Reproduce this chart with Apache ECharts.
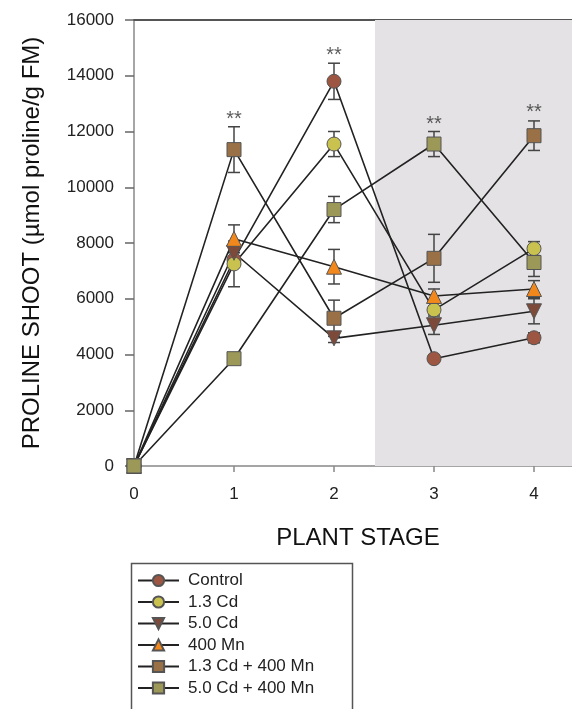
<!DOCTYPE html>
<html><head><meta charset="utf-8">
<script src="https://cdn.jsdelivr.net/npm/echarts@6/dist/echarts.min.js"></script>
<style>html,body{margin:0;padding:0;background:#fff}#c{width:572px;height:709px}</style>
</head><body><div id="c"></div>
<script>
const stages = [0, 1, 2, 3, 4];
const seriesNames = ['Control', '1.3 Cd', '5.0 Cd', '400 Mn', '1.3 Cd + 400 Mn', '5.0 Cd + 400 Mn'];
const control     = [0, 7400, 13800, 3850, 4600];
const cd13        = [0, 7250, 11550, 5600, 7800];
const cd50        = [0, 7650, 4580, 5050, 5550];
const mn400       = [0, 8150, 7150, 6100, 6350];
const cd13mn      = [0, 11350, 5300, 7450, 11850];
const cd50mn      = [0, 3850, 9200, 11550, 7300];
const controlErr  = [0, 0, 650, 120, 180];
const cd13Err     = [0, 820, 450, 150, 250];
const cd50Err     = [0, 150, 150, 330, 450];
const mn400Err    = [0, 500, 620, 250, 300];
const cd13mnErr   = [0, 820, 650, 860, 530];
const cd50mnErr   = [0, 0, 470, 450, 500];
const starStages  = [1, 2, 3, 4];
const starValues  = [12440, 14740, 12240, 12690];
const shadedRange = [2.41, 4.38];
const xTickValues = [0, 1, 2, 3, 4];
const yTicks = { min: 0, max: 16000, interval: 2000 };

const values = [control, cd13, cd50, mn400, cd13mn, cd50mn];
const errs = [controlErr, cd13Err, cd50Err, mn400Err, cd13mnErr, cd50mnErr];
const colors = ['#9c5642', '#c9c24e', '#7d4a3a', '#f2871c', '#9a7147', '#9c9858'];
const symbols = ['circle', 'circle', 'path://M0,0 L10,0 L5,9 Z', 'triangle', 'rect', 'rect'];
const sizes = [14, 14, 15, 15, 14, 14];
const FONT = '"Liberation Sans", Arial, sans-serif';

const series = [];
values.forEach((vals, i) => {
  const data = stages.map((s, k) => [s, vals[k], errs[i][k]]).filter(d => d[2] > 0);
  series.push({
    type: 'custom', name: 'err' + i, z: 3, silent: true,
    renderItem: (params, api) => {
      const x = api.value(0), y = api.value(1), e = api.value(2);
      const top = api.coord([x, y + e]);
      const bot = api.coord([x, y - e]);
      const w = 6;
      const st = { stroke: '#444', lineWidth: 1.5 };
      return { type: 'group', children: [
        { type: 'line', shape: { x1: top[0], y1: top[1], x2: bot[0], y2: bot[1] }, style: st },
        { type: 'line', shape: { x1: top[0] - w, y1: top[1], x2: top[0] + w, y2: top[1] }, style: st },
        { type: 'line', shape: { x1: bot[0] - w, y1: bot[1], x2: bot[0] + w, y2: bot[1] }, style: st }
      ]};
    },
    data: data
  });
});
values.forEach((vals, i) => {
  series.push({
    type: 'line', name: seriesNames[i], z: 5,
    data: stages.map((s, k) => [s, vals[k]]),
    symbol: symbols[i], symbolSize: sizes[i], showAllSymbol: true,
    lineStyle: { color: '#222', width: 1.6 },
    itemStyle: { color: colors[i], borderColor: '#555', borderWidth: 1 },
    emphasis: { disabled: true },
    markArea: i === 0 ? { silent: true, itemStyle: { color: '#e4e2e4' }, data: [[{ xAxis: shadedRange[0] }, { xAxis: shadedRange[1] }]] } : undefined
  });
});
series.push({
  type: 'scatter', name: 'stars', symbolSize: 0, z: 6, silent: true,
  data: starStages.map((s, k) => [s, starValues[k]]),
  label: { show: true, formatter: '**', position: 'inside', fontSize: 20, color: '#333', fontFamily: FONT }
});

const chart = echarts.init(document.getElementById('c'), null, { renderer: 'canvas' });
chart.setOption({
  animation: false,
  backgroundColor: '#fff',
  grid: { left: 134, right: 0, top: 20, bottom: 243, containLabel: false, outerBoundsMode: 'none' },
  xAxis: [{
    type: 'value', min: 0, max: shadedRange[1], interval: 1,
    name: 'PLANT STAGE', nameLocation: 'middle', nameGap: 60,
    nameTextStyle: { fontSize: 24, fontFamily: FONT, color: '#111', padding: [0, 0, 0, 10] },
    axisLine: { show: true, lineStyle: { color: '#888', width: 1.5 } },
    axisTick: { show: true, length: 6, customValues: xTickValues, lineStyle: { color: '#888', width: 1.5 } },
    axisLabel: { fontSize: 17, fontFamily: FONT, color: '#222', margin: 20, customValues: xTickValues },
    splitLine: { show: false }
  }, {
    type: 'value', position: 'top', min: 0, max: shadedRange[1],
    axisLine: { show: true, lineStyle: { color: '#555', width: 2 } },
    axisTick: { show: false }, axisLabel: { show: false }, splitLine: { show: false }
  }],
  yAxis: {
    type: 'value', min: yTicks.min, max: yTicks.max, interval: yTicks.interval,
    name: 'PROLINE SHOOT (µmol proline/g FM)', nameLocation: 'middle', nameGap: 90,
    nameTextStyle: { fontSize: 24, fontFamily: FONT, color: '#111' },
    axisLine: { show: true, lineStyle: { color: '#888', width: 1.5 } },
    axisTick: { show: true, inside: false, length: 9, lineStyle: { color: '#666', width: 1.5 } },
    axisLabel: { fontSize: 17, fontFamily: FONT, color: '#222', margin: 20, formatter: v => String(v) },
    splitLine: { show: false }
  },
  legend: {
    orient: 'vertical', left: 137, top: 572, padding: 0, height: 137,
    data: seriesNames,
    itemWidth: 41, itemHeight: 14, itemGap: 4.5,
    textStyle: { fontSize: 17, fontFamily: FONT, color: '#222', padding: [0, 0, 0, 4] }
  },
  graphic: [{
    type: 'rect', left: 129, top: 561, silent: true,
    shape: { width: 221, height: 170 },
    style: { fill: 'none', stroke: '#555', lineWidth: 1.5 }
  }],
  series: series
});
</script></body></html>
